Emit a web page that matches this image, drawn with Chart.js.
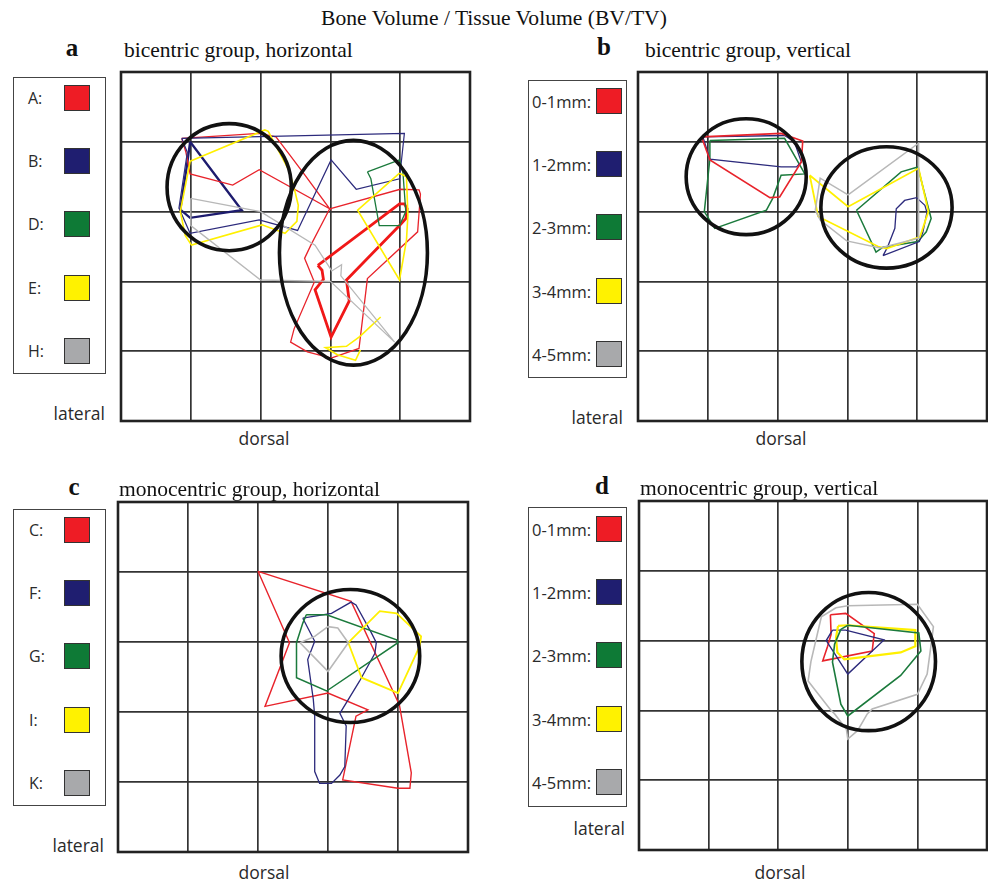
<!DOCTYPE html>
<html>
<head>
<meta charset="utf-8">
<script src="https://cdn.jsdelivr.net/npm/chart.js@4/dist/chart.umd.min.js"></script>
<style>
html,body{margin:0;padding:0;background:#fff;overflow:hidden;}
#wrap{position:relative;width:988px;height:882px;}
.t{position:absolute;white-space:nowrap;}
.serif{font-family:"Liberation Serif","Times New Roman",serif;color:#111;}
.sans{font-family:"Open Sans","Liberation Sans",sans-serif;color:#2a2a2a;}
.cc{transform:translate(-50%,-50%);}
.lc{transform:translateY(-50%);}
.rc{transform:translate(-100%,-50%);}
.legbox{position:absolute;border:1.5px solid #444;box-sizing:border-box;}
.sw{position:absolute;width:26px;height:26px;box-sizing:border-box;border:1px solid #333;}
canvas{position:absolute;}
</style>
</head>
<body>
<div id="wrap"></div>
<script>
// ---------------- DATA (grid units: x 0-5 left→right, y 0-5 top→bottom) ----------------
// Panel a: bicentric group, horizontal
const aRedOuter = [[0.87,0.95],[1.98,0.88],[2.22,0.93],[2.42,1.19],[2.63,1.47],[2.99,1.96],[1.98,1.40],[1.60,1.62],[0.99,1.46],[0.93,1.15],[0.87,0.95]];
const aRedLower = [[2.99,1.96],[4.00,1.68],[4.27,1.69],[4.29,1.75],[4.25,2.29],[3.53,2.96],[3.41,3.96],[3.01,4.10],[2.67,4.01],[2.43,3.87],[2.48,3.68],[2.77,3.01],[2.63,2.67],[2.72,2.48],[2.99,1.96]];
const aRedThick = [[2.82,2.77],[3.99,1.89],[4.06,1.89],[4.10,1.96],[4.08,2.10],[3.99,2.20],[3.23,2.98],[3.27,3.28],[3.01,3.80],[2.78,3.12],[2.90,2.97],[2.88,2.84],[2.82,2.77]];
const aBlueThin = [[0.87,0.95],[4.06,0.88],[3.99,1.53],[3.37,1.68],[3.01,1.26],[2.53,2.27],[1.98,2.12],[0.99,2.31],[0.83,1.95],[0.95,1.15],[0.87,0.95]];
const aBlueThick = [[0.99,1.00],[1.73,1.98],[0.99,2.09],[0.85,1.97],[0.95,1.30],[0.99,1.00]];
const aGreen = [[3.53,1.43],[3.99,1.26],[4.04,1.45],[4.08,2.00],[3.99,2.20],[3.70,2.20],[3.58,1.53],[3.53,1.43]];
const aYellowL = [[0.99,1.28],[2.06,0.83],[2.11,0.85],[2.40,1.40],[2.47,1.62],[2.54,1.91],[2.52,2.14],[2.35,2.31],[2.02,2.19],[1.01,2.48],[0.92,2.34],[0.85,2.00],[0.99,1.28]];
const aYellowR = [[3.99,1.45],[3.39,1.98],[3.99,2.98],[4.09,2.41],[4.11,2.05],[4.09,1.50],[3.99,1.45]];
const aYellowB = [[3.72,3.51],[3.42,3.79],[3.23,3.93],[2.93,3.95],[3.10,4.05],[3.36,4.13],[3.43,3.98]];
const aGray = [[1.00,1.81],[2.00,2.00],[2.78,2.48],[3.02,2.85],[3.16,2.76],[3.15,2.92],[3.92,3.87],[3.00,3.00],[2.00,2.98],[1.00,2.20],[1.00,1.81]];
const aEllipses = [[1.55,1.65,0.89,0.91],[3.33,2.59,1.06,1.61]]; // cx, cy, rx, ry

// Panel b: bicentric group, vertical
const bRed = [[0.91,0.93],[2.05,0.88],[2.36,0.99],[2.34,1.29],[2.03,1.79],[1.89,1.80],[1.03,1.26],[0.91,0.93]];
const bBlueL = [[0.93,0.93],[2.10,0.91],[2.24,1.00],[2.34,1.29],[2.27,1.36],[2.05,1.36],[1.03,1.25],[0.93,0.93]];
const bBlueR = [[3.51,2.63],[3.57,2.52],[3.68,2.24],[3.70,1.96],[3.82,1.84],[3.99,1.80],[4.11,1.91],[4.14,2.01],[4.08,2.30],[4.03,2.43],[3.51,2.63]];
const bGreenL = [[1.03,0.98],[2.10,0.95],[2.39,1.46],[2.05,1.48],[1.93,1.81],[1.84,1.98],[1.10,2.24],[0.95,2.00],[1.03,1.24],[1.03,0.98]];
const bGreenR = [[3.13,1.98],[3.77,1.43],[4.01,1.36],[4.10,1.72],[4.20,2.10],[4.13,2.29],[4.01,2.43],[3.51,2.51],[3.41,2.58],[3.13,1.98]];
const bYellow = [[2.46,1.48],[2.58,2.07],[3.44,2.50],[3.56,2.53],[4.04,2.36],[4.16,2.00],[4.02,1.38],[3.01,1.93],[2.46,1.48]];
const bGray = [[2.54,1.98],[2.61,1.52],[3.01,1.76],[4.02,1.02],[4.02,2.38],[3.47,2.52],[2.99,2.42],[2.61,2.12],[2.54,1.98]];
const bEllipses = [[1.55,1.50,0.86,0.83],[3.56,1.94,0.94,0.87]];

// Panel c: monocentric group, horizontal
const cRed = [[2.00,0.99],[3.33,1.42],[4.02,2.90],[4.19,3.87],[4.17,4.09],[4.00,4.09],[3.21,3.97],[3.40,3.06],[3.57,2.97],[3.00,2.73],[2.10,2.92],[2.45,2.01],[2.00,0.99]];
const cBlue = [[2.64,1.66],[3.05,1.59],[3.33,1.43],[3.40,1.47],[3.62,1.87],[3.69,2.01],[3.67,2.16],[3.45,2.56],[3.17,3.02],[3.26,3.20],[3.24,3.78],[3.17,3.90],[3.05,4.02],[2.88,4.02],[2.81,3.85],[2.81,3.06],[2.79,2.82],[2.71,2.25],[2.81,1.99],[2.64,1.66]];
const cGreen = [[2.69,1.61],[2.98,1.61],[3.98,1.97],[4.00,2.01],[2.98,2.70],[2.55,2.51],[2.55,2.01],[2.64,1.73],[2.69,1.61]];
const cYellow = [[3.29,2.01],[3.74,1.56],[3.98,1.59],[4.33,1.92],[4.31,2.06],[4.00,2.73],[3.48,2.51],[3.29,2.01]];
const cGray = [[2.60,2.01],[2.81,1.92],[3.00,1.78],[3.14,1.80],[3.29,2.01],[3.00,2.42],[2.60,2.01]];
const cEllipses = [[3.32,2.20,0.99,0.95]];

// Panel d: monocentric group, vertical
const dRed = [[2.75,1.63],[2.97,1.61],[3.38,1.90],[3.35,2.15],[2.64,2.29],[2.71,2.08],[2.76,1.91],[2.75,1.63]];
const dBlue = [[2.78,1.85],[2.97,1.85],[3.52,1.99],[3.00,2.48],[2.69,2.00],[2.78,1.85]];
const dGreen = [[2.90,1.84],[3.00,1.78],[4.02,1.89],[4.05,2.15],[3.76,2.50],[3.00,3.08],[2.90,2.91],[2.78,2.31],[2.81,2.05],[2.90,1.84]];
const dYellow = [[2.86,1.79],[3.00,1.78],[3.97,1.85],[3.97,2.08],[3.76,2.17],[2.95,2.27],[2.85,2.17],[2.83,1.96],[2.86,1.79]];
const dGray = [[2.83,1.53],[3.00,1.50],[4.00,1.48],[4.23,1.80],[4.21,1.96],[4.14,2.48],[4.00,2.77],[3.35,2.98],[3.28,3.05],[3.14,3.29],[3.00,3.41],[2.98,3.27],[2.81,3.05],[2.76,3.00],[2.43,2.58],[2.47,2.30],[2.62,1.66],[2.83,1.53]];
const dEllipses = [[3.30,2.30,0.96,0.99]];

// Legend labels
const legendLettersA = ["A:","B:","D:","E:","H:"];
const legendLettersC = ["C:","F:","G:","I:","K:"];
const legendDepths = ["0-1mm:","1-2mm:","2-3mm:","3-4mm:","4-5mm:"];
const gridTicks = [0,1,2,3,4,5];

// ---------------- STYLE ----------------
const COL = {red:'#e8232b', blue:'#2c2a7c', green:'#1b7a3c', yellow:'#fff000', gray:'#b8b8b8'};
const SW = ['#ee1c25','#1f1e70','#0e7a36','#fff200','#a8a9ab'];

const wrap = document.getElementById('wrap');
function txt(s, x, y, cls, size, extra){
  const d=document.createElement('div'); d.className='t '+cls; d.textContent=s;
  d.style.left=x+'px'; d.style.top=y+'px'; d.style.fontSize=size+'px';
  if(extra) Object.assign(d.style, extra);
  wrap.appendChild(d); return d;
}

function ds(pts, color, w){
  return {data: pts.map(p=>({x:p[0], y:p[1]})), borderColor: color, borderWidth: w||1.3,
          showLine:true, pointRadius:0, pointHoverRadius:0, fill:false, tension:0};
}

const ellipsePlugin = {
  id:'ell',
  afterDatasetsDraw(chart, args, opts){
    const ctx=chart.ctx, xs=chart.scales.x, ys=chart.scales.y;
    ctx.save(); ctx.strokeStyle='#111'; ctx.lineWidth=3.6;
    (opts.list||[]).forEach(e=>{
      const cx=xs.getPixelForValue(e[0]), cy=ys.getPixelForValue(e[1]);
      const rx=Math.abs(xs.getPixelForValue(e[0]+e[2])-cx), ry=Math.abs(ys.getPixelForValue(e[1]+e[3])-cy);
      ctx.beginPath(); ctx.ellipse(cx,cy,rx,ry,0,0,Math.PI*2); ctx.stroke();
    });
    const a=chart.chartArea; ctx.strokeStyle='#222'; ctx.lineWidth=2.6;
    ctx.strokeRect(a.left,a.top,a.right-a.left,a.bottom-a.top);
    ctx.restore();
  }
};

function panel(L,T,W,H,datasets,ells){
  const P=3;
  const c=document.createElement('canvas');
  c.width=W+2*P; c.height=H+2*P;
  c.style.left=(L-P)+'px'; c.style.top=(T-P)+'px';
  c.style.width=(W+2*P)+'px'; c.style.height=(H+2*P)+'px';
  wrap.appendChild(c);
  const scale = (rev)=>({type:'linear', min:0, max:5, reverse:rev, afterBuildTicks:(s)=>{s.ticks=gridTicks.map(v=>({value:v}));},
    ticks:{display:false}, grid:{color:'#333', lineWidth:1.7, drawTicks:false}, border:{display:false}, title:{display:false}});
  new Chart(c,{type:'scatter', data:{datasets},
    options:{responsive:false, animation:false, devicePixelRatio:1, layout:{padding:P},
      scales:{x:scale(false), y:scale(true)},
      plugins:{legend:{display:false}, tooltip:{enabled:false}, ell:{list:ells}}},
    plugins:[ellipsePlugin]});
}

// Panels
panel(121,72,349,349,[
  ds(aGray,COL.gray), ds(aYellowL,COL.yellow,1.6), ds(aYellowR,COL.yellow,1.6), ds(aYellowB,COL.yellow,1.6),
  ds(aGreen,COL.green), ds(aBlueThin,COL.blue,1.2), ds(aRedOuter,COL.red), ds(aRedLower,COL.red),
  ds(aRedThick,'#f01818',2.8), ds(aBlueThick,'#1d1b6e',2.3)
], aEllipses);
panel(638,72,349,349,[
  ds(bGray,COL.gray,1.5), ds(bYellow,COL.yellow,1.8), ds(bRed,COL.red,1.6), ds(bBlueL,COL.blue,1.3), ds(bBlueR,COL.blue,1.3),
  ds(bGreenL,COL.green,1.5), ds(bGreenR,COL.green,1.5)
], bEllipses);
panel(118,502,350,350,[
  ds(cGray,COL.gray,1.6), ds(cYellow,COL.yellow,1.8), ds(cGreen,COL.green,1.5), ds(cBlue,COL.blue,1.3), ds(cRed,COL.red,1.4)
], cEllipses);
panel(639,501,348,349,[
  ds(dGray,COL.gray,1.6), ds(dGreen,COL.green,1.6), ds(dYellow,COL.yellow,2.2), ds(dBlue,COL.blue,1.4), ds(dRed,COL.red,1.6)
], dEllipses);

// Titles
txt('Bone Volume / Tissue Volume (BV/TV)', 494, 18, 'serif cc', 21.6);
txt('a', 72, 48, 'serif cc', 25, {fontWeight:'bold'});
txt('b', 604, 47, 'serif cc', 25, {fontWeight:'bold'});
txt('c', 74, 487, 'serif cc', 25, {fontWeight:'bold'});
txt('d', 602, 486, 'serif cc', 25, {fontWeight:'bold'});
txt('bicentric group, horizontal', 124, 50, 'serif lc', 21.5);
txt('bicentric group, vertical', 645, 50, 'serif lc', 21.5);
txt('monocentric group, horizontal', 119, 489, 'serif lc', 21.5);
txt('monocentric group, vertical', 640, 488, 'serif lc', 21.5);

// Axis words
[[105,413],[623,417],[104,845],[625,828]].forEach(p=>txt('lateral', p[0], p[1], 'sans rc', 17.5));
[[264,438],[781,438],[264,872],[780,872]].forEach(p=>txt('dorsal', p[0], p[1], 'sans cc', 17.5));

// Legends
function legend(bx,by,bw,bh,labels,labelX,swX,y0,fs){
  const b=document.createElement('div'); b.className='legbox';
  Object.assign(b.style,{left:bx+'px',top:by+'px',width:bw+'px',height:bh+'px'}); wrap.appendChild(b);
  labels.forEach((l,i)=>{
    const y=y0+i*63.2;
    txt(l, labelX, y, 'sans lc', fs);
    const s=document.createElement('div'); s.className='sw';
    Object.assign(s.style,{left:swX+'px',top:(y-13)+'px',background:SW[i]}); wrap.appendChild(s);
  });
}
legend(13,77,93,297,legendLettersA,28,64,98,16);
legend(528,80,99,298,legendDepths,532,596,101,16.5);
legend(13,509,93,297,legendLettersC,29,64,530,16);
legend(528,507,99,300,legendDepths,532,596,529,16.5);
</script>
</body>
</html>
